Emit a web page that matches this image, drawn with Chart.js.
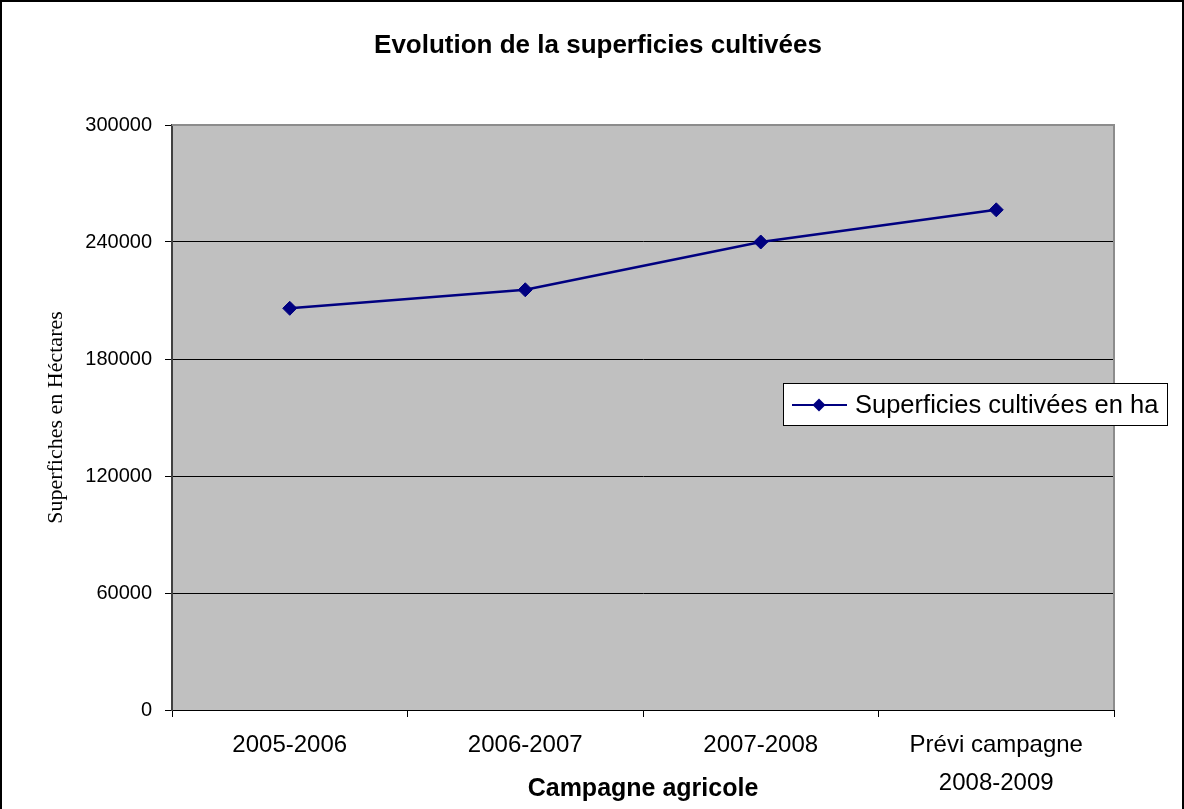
<!DOCTYPE html>
<html>
<head>
<meta charset="utf-8">
<script src="https://cdn.jsdelivr.net/npm/chart.js@4/dist/chart.umd.min.js"></script>
<style>
  body { margin: 0; background: #fff; }
  canvas { display: block; }
</style>
</head>
<body>
<canvas id="chart" width="1184" height="809"></canvas>
<script>
const campagnes = ["2005-2006", "2006-2007", "2007-2008", ["Prévi campagne", "2008-2009"]];
const superficies = [206000, 215500, 240000, 256500];
const serieLabel = "Superficies cultivées en ha";
const titre = "Evolution de la superficies cultivées";
const yMax = 300000;
const yStep = 60000;

const navy = "#000080";

// fond blanc, cadre noir, zone grise
const backgroundPlugin = {
    id: "fond",
    beforeDraw(chart) {
        const ctx = chart.ctx;
        const a = chart.chartArea;
        ctx.save();
        ctx.fillStyle = "#fff";
        ctx.fillRect(0, 0, chart.width, chart.height);
        ctx.fillStyle = "#c0c0c0";
        ctx.fillRect(a.left, a.top, a.right - a.left, a.bottom - a.top);
        ctx.strokeStyle = "#000";
        ctx.lineWidth = 2;
        ctx.strokeRect(1, 1, chart.width - 2, chart.height + 4);
        ctx.restore();
    },
    beforeDatasetsDraw(chart) {
        const ctx = chart.ctx;
        const a = chart.chartArea;
        ctx.save();
        ctx.strokeStyle = "#8c8c8c";
        ctx.lineWidth = 2;
        ctx.beginPath();
        ctx.moveTo(a.left, a.top);
        ctx.lineTo(a.right, a.top);
        ctx.lineTo(a.right, a.bottom);
        ctx.stroke();
        ctx.restore();
    },
    afterDraw(chart) {
        const ctx = chart.ctx;
        ctx.save();
        ctx.fillStyle = "#000";
        ctx.font = "bold 26px 'Liberation Sans', Arial, sans-serif";
        ctx.textAlign = "center";
        ctx.textBaseline = "middle";
        ctx.fillText(titre, 598, 46);

        // legende
        const ds = chart.data.datasets[0];
        const x = 783.5, y = 383.5, w = 384, h = 42;
        ctx.fillStyle = "#fff";
        ctx.fillRect(x, y, w, h);
        ctx.strokeStyle = "#000";
        ctx.lineWidth = 1;
        ctx.strokeRect(x, y, w, h);
        const cy = y + h / 2 + 0.5;
        ctx.strokeStyle = ds.borderColor;
        ctx.lineWidth = 2;
        ctx.beginPath();
        ctx.moveTo(792, cy);
        ctx.lineTo(847, cy);
        ctx.stroke();
        ctx.fillStyle = ds.backgroundColor;
        const r = 6.5;
        ctx.beginPath();
        ctx.moveTo(819, cy - r);
        ctx.lineTo(819 + r, cy);
        ctx.lineTo(819, cy + r);
        ctx.lineTo(819 - r, cy);
        ctx.closePath();
        ctx.fill();
        ctx.fillStyle = "#000";
        ctx.font = "25.5px 'Liberation Sans', Arial, sans-serif";
        ctx.textAlign = "left";
        ctx.fillText(ds.label, 855, cy + 1);
        ctx.restore();
    }
};

const ctx = document.getElementById("chart").getContext("2d");
const chart = new Chart(ctx, {
    type: "line",
    data: {
        labels: campagnes,
        datasets: [{
            label: serieLabel,
            data: superficies,
            borderColor: navy,
            backgroundColor: navy,
            borderWidth: 2.5,
            tension: 0,
            fill: false,
            pointStyle: "rectRot",
            pointRadius: 7,
            pointBorderWidth: 1,
            pointBorderColor: navy,
            pointBackgroundColor: navy
        }]
    },
    options: {
        responsive: false,
        animation: false,
        layout: { padding: { top: 125, right: 70, left: 30, bottom: 0 } },
        plugins: {
            legend: { display: false },
            title: { display: false },
            tooltip: { enabled: false }
        },
        scales: {
            x: {
                offset: true,
                grid: {
                    offset: true,
                    drawOnChartArea: false,
                    drawTicks: true,
                    tickLength: 7,
                    color: "#000"
                },
                border: { color: "#000", width: 1 },
                ticks: {
                    color: "#000",
                    padding: 9,
                    maxRotation: 0,
                    font: { family: "'Liberation Sans', Arial, sans-serif", size: 24, lineHeight: 1.58 }
                },
                title: {
                    display: true,
                    text: "Campagne agricole",
                    color: "#000",
                    padding: { top: 0, bottom: 5 },
                    font: { family: "'Liberation Sans', Arial, sans-serif", size: 25, weight: "bold" }
                },
                afterFit(scale) { scale.height = 99; }
            },
            y: {
                min: 0,
                max: yMax,
                grid: {
                    color: c => (c.tick && c.tick.value === yMax ? "#8c8c8c" : "#000"),
                    tickColor: "#000",
                    lineWidth: 1,
                    drawTicks: true,
                    tickLength: 7
                },
                border: { color: "#404040", width: 2 },
                ticks: {
                    stepSize: yStep,
                    color: "#000",
                    padding: 13,
                    callback: v => String(v),
                    font: { family: "'Liberation Sans', Arial, sans-serif", size: 20 }
                },
                title: {
                    display: true,
                    text: "Superfiches en Héctares",
                    color: "#000",
                    padding: { top: 13, bottom: 0 },
                    font: { family: "'Liberation Serif', 'Times New Roman', serif", size: 22 }
                },
                afterFit(scale) { scale.width = 142; }
            }
        }
    },
    plugins: [backgroundPlugin]
});
</script>
</body>
</html>
